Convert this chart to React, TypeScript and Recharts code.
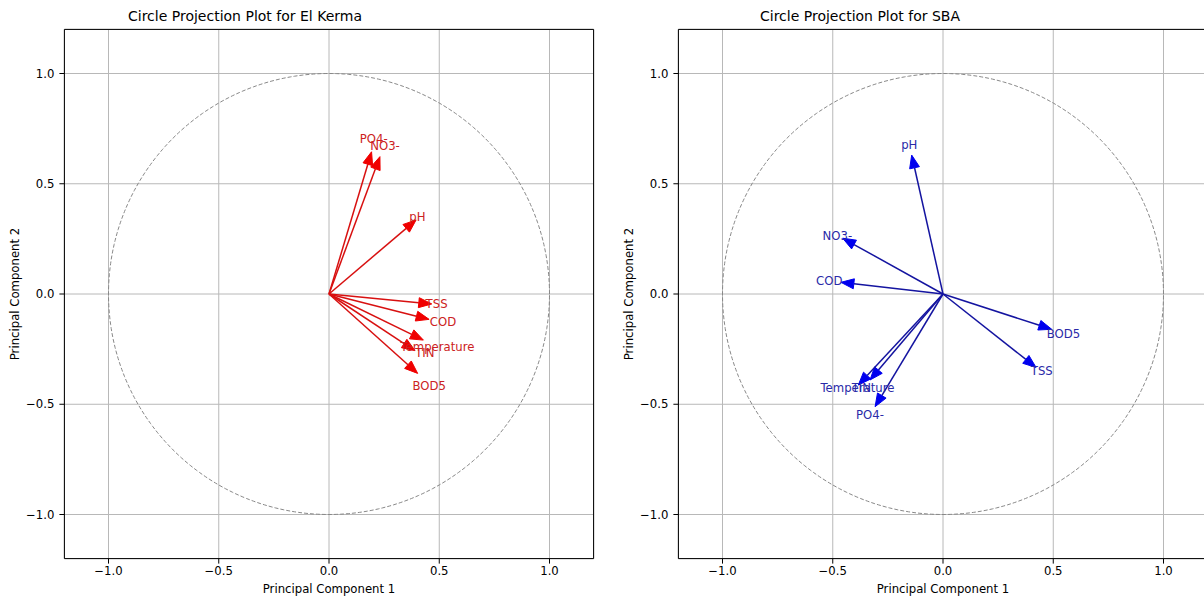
import React from 'react';
import {
  ComposedChart,
  XAxis,
  YAxis,
  CartesianGrid,
  ReferenceLine,
  ReferenceArea,
  Scatter,
  Line,
} from 'recharts';

// ---------- data ----------
const axisTicks = [-1, -0.5, 0, 0.5, 1];

const kermaVars = ['PO4-', 'NO3-', 'pH', 'TSS', 'COD', 'Temperature', 'TIN', 'BOD5'];
const kermaPC1 = [0.193, 0.231, 0.395, 0.466, 0.454, 0.428, 0.39, 0.402];
const kermaPC2 = [0.645, 0.623, 0.336, -0.045, -0.115, -0.209, -0.257, -0.36];
const kermaLabelPC1 = [0.203, 0.254, 0.401, 0.488, 0.517, 0.492, 0.435, 0.454];
const kermaLabelPC2 = [0.702, 0.671, 0.348, -0.045, -0.126, -0.242, -0.269, -0.415];

const sbaVars = ['pH', 'NO3-', 'COD', 'BOD5', 'TSS', 'Temperature', 'TIN', 'PO4-'];
const sbaPC1 = [-0.142, -0.455, -0.463, 0.493, 0.422, -0.331, -0.384, -0.308];
const sbaPC2 = [0.63, 0.253, 0.053, -0.16, -0.333, -0.39, -0.413, -0.511];
const sbaLabelPC1 = [-0.153, -0.479, -0.516, 0.546, 0.448, -0.388, -0.37, -0.331];
const sbaLabelPC2 = [0.676, 0.263, 0.06, -0.181, -0.348, -0.428, -0.426, -0.549];

// unit circle (reference geometry, not data)
const circlePoints = Array.from({ length: 361 }, (_, i) => {
  const a = (i * Math.PI) / 180;
  return { x: Math.cos(a), y: Math.sin(a) };
});

const FONT = '"DejaVu Sans", sans-serif';
const HEAD_LEN = 13;
const HEAD_W = 10;

const fmt = (v: number) => (v < 0 ? '\u2212' : '') + Math.abs(v).toFixed(1);

function arrowShape(headColor: string, shaftColor: string) {
  return (p: any) => {
    const { x1, y1, x2, y2 } = p;
    const dx = x2 - x1;
    const dy = y2 - y1;
    const len = Math.hypot(dx, dy) || 1;
    const ux = dx / len;
    const uy = dy / len;
    const bx = x2 - ux * HEAD_LEN;
    const by = y2 - uy * HEAD_LEN;
    const px = -uy;
    const py = ux;
    const pts = `${x2},${y2} ${bx + (px * HEAD_W) / 2},${by + (py * HEAD_W) / 2} ${bx - (px * HEAD_W) / 2},${by - (py * HEAD_W) / 2}`;
    return (
      <g>
        <line x1={x1} y1={y1} x2={bx} y2={by} stroke={shaftColor} strokeWidth={1.5} />
        <polygon points={pts} fill={headColor} stroke={headColor} strokeWidth={1} />
      </g>
    );
  };
}

function labelShape(color: string) {
  return (p: any) => {
    const name = p.payload ? p.payload.name : p.name;
    return (
      <text
        x={p.cx}
        y={p.cy}
        textAnchor="middle"
        dominantBaseline="central"
        fill={color}
        fontSize={11.7}
        fontFamily={FONT}
      >
        {name}
      </text>
    );
  };
}

type PanelProps = {
  left: number;
  names: string[];
  pc1: number[];
  pc2: number[];
  lx: number[];
  ly: number[];
  headColor: string;
  shaftColor: string;
  textColor: string;
};

function Panel({ left, names, pc1, pc2, lx, ly, headColor, shaftColor, textColor }: PanelProps) {
  const arrows = names.map((n, i) => ({ name: n, x: pc1[i], y: pc2[i] }));
  const labels = names.map((n, i) => ({ name: n, x: lx[i], y: ly[i] }));
  const shape = arrowShape(headColor, shaftColor);
  return (
    <div style={{ position: 'absolute', left, top: 0, width: 620, height: 597 }}>
      <ComposedChart
        width={620}
        height={597}
        margin={{ top: 29.4, right: 26.4, bottom: 0, left: 9.4 }}
        style={{ fontFamily: FONT }}
      >
        <CartesianGrid stroke="#b8b8b8" strokeWidth={1} />
        <XAxis
          type="number"
          dataKey="x"
          domain={[-1.2, 1.2]}
          ticks={axisTicks}
          tickFormatter={fmt}
          allowDataOverflow
          height={38.4}
          tickSize={5}
          tickMargin={3}
          axisLine={false}
          tickLine={{ stroke: '#000' }}
          tick={{ fill: '#000', fontSize: 11.7 }}
          label={{
            value: 'Principal Component 1',
            position: 'insideBottom',
            offset: 4,
            fill: '#000',
            fontSize: 11.7,
          }}
        />
        <YAxis
          type="number"
          dataKey="y"
          domain={[-1.2, 1.2]}
          ticks={axisTicks}
          tickFormatter={fmt}
          allowDataOverflow
          width={55}
          tickSize={5}
          tickMargin={5}
          axisLine={false}
          tickLine={{ stroke: '#000' }}
          tick={{ fill: '#000', fontSize: 11.7 }}
          label={{
            value: 'Principal Component 2',
            position: 'insideLeft',
            angle: -90,
            offset: 5.6,
            fill: '#000',
            fontSize: 11.7,
            style: { textAnchor: 'middle' },
          }}
        />
        <ReferenceArea
          x1={-1.2}
          x2={1.2}
          y1={-1.2}
          y2={1.2}
          fill="none"
          fillOpacity={0}
          stroke="#000"
          strokeWidth={1}
          ifOverflow="visible"
        />
        <Line
          data={circlePoints}
          dataKey="y"
          type="linear"
          dot={false}
          activeDot={false}
          stroke="#888"
          strokeWidth={1}
          strokeDasharray="4 2"
          isAnimationActive={false}
        />
        {arrows.map((a) => (
          <ReferenceLine
            key={a.name}
            segment={[
              { x: 0, y: 0 },
              { x: a.x, y: a.y },
            ]}
            ifOverflow="visible"
            shape={shape}
          />
        ))}
        <Scatter data={labels} dataKey="y" shape={labelShape(textColor)} isAnimationActive={false} />
      </ComposedChart>
    </div>
  );
}

const titleStyle: React.CSSProperties = {
  position: 'absolute',
  top: 8.3,
  width: 400,
  textAlign: 'center',
  fontSize: 14,
  lineHeight: '16px',
  fontFamily: FONT,
  color: '#000',
  whiteSpace: 'nowrap',
};

export default function App() {
  return (
    <div
      style={{
        position: 'absolute',
        left: 0,
        top: 0,
        width: 1204,
        height: 597,
        overflow: 'hidden',
        background: '#fff',
        fontFamily: FONT,
      }}
    >
      <Panel
        left={0}
        names={kermaVars}
        pc1={kermaPC1}
        pc2={kermaPC2}
        lx={kermaLabelPC1}
        ly={kermaLabelPC2}
        headColor="#f00000"
        shaftColor="#d81010"
        textColor="#cc2222"
      />
      <Panel
        left={614}
        names={sbaVars}
        pc1={sbaPC1}
        pc2={sbaPC2}
        lx={sbaLabelPC1}
        ly={sbaLabelPC2}
        headColor="#0000ee"
        shaftColor="#1414a0"
        textColor="#2a2aa8"
      />
      <div style={{ ...titleStyle, left: 245 - 200 }}>Circle Projection Plot for El Kerma</div>
      <div style={{ ...titleStyle, left: 860 - 200 }}>Circle Projection Plot for SBA</div>
    </div>
  );
}
